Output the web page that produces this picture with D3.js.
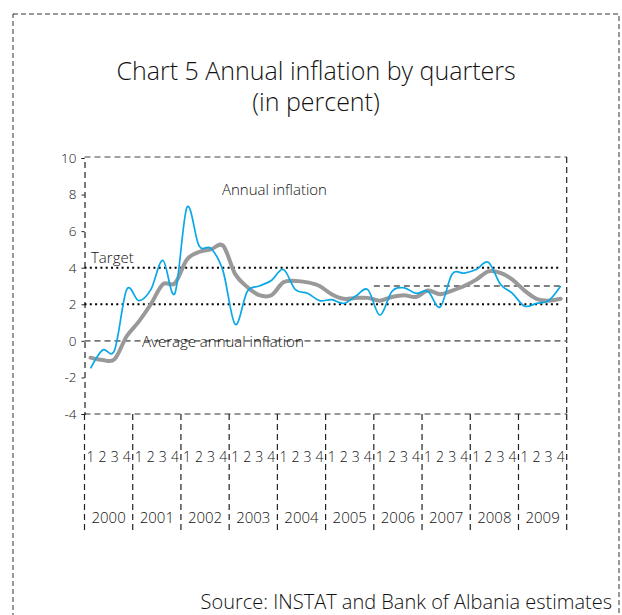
<!DOCTYPE html>
<html>
<head>
<meta charset="utf-8">
<script src="https://cdn.jsdelivr.net/npm/d3@7"></script>
<style>
  html, body { margin: 0; padding: 0; background: #fff; }
  svg { display: block; }
  text { font-family: "Open Sans", Lato, "DejaVu Sans", sans-serif; font-weight: 300; fill: #111; }
</style>
</head>
<body>
<svg id="chart" width="622" height="615"></svg>
<script>
// ---------------- data ----------------
const years = ["2000","2001","2002","2003","2004","2005","2006","2007","2008","2009"];
const quarters = ["1","2","3","4"];
// Annual inflation (percent), end of quarter
const annualInflation = [
  -1.5, -0.5, -0.5, 2.8,
   2.2,  2.8,  4.4, 2.6,
   7.3,  5.2,  5.05, 3.8,
   0.9,  2.7,  3.0, 3.3,
   3.9,  2.8,  2.6, 2.2,
   2.25, 2.05, 2.45, 2.8,
   1.4,  2.7,  2.9, 2.6,
   2.7,  1.85, 3.65, 3.7,
   3.9,  4.3,  3.1, 2.6,
   1.9,  2.05, 2.2, 3.0
];
// Average annual inflation (percent)
const averageInflation = [
  -0.92, -1.05, -1.0, 0.25,
   1.05,  2.0,  3.1, 3.15,
   4.45,  4.86, 5.0, 5.2,
   3.65,  2.95, 2.5, 2.5,
   3.2,   3.28, 3.2, 3.0,
   2.55,  2.3,  2.35, 2.35,
   2.2,   2.4,  2.5, 2.4,
   2.75,  2.55, 2.75, 3.0,
   3.35,  3.8,  3.72, 3.35,
   2.75,  2.3,  2.2, 2.3
];
const yTicks = [-4, -2, 0, 2, 4, 6, 8, 10];
const targetBand = [2, 4];      // dotted lines
const targetPoint = 3;          // dashed line from 2006
const targetPointStart = "2006-1";
const averageLevel = 0;

const titleLines = ["Chart 5 Annual inflation by quarters", "(in percent)"];
const sourceText = "Source: INSTAT and Bank of Albania estimates";

// ---------------- layout ----------------
const svg = d3.select("#chart");
const L = 84.5, R = 566.7, T = 158, B = 414;

const keys = [];
years.forEach(y => quarters.forEach(q => keys.push(y + "-" + q)));

const xq = d3.scaleBand().domain(keys).range([L, R]);
const xy = d3.scaleBand().domain(years).range([L, R]);
const y = d3.scaleLinear().domain([-4, 10]).range([B, T]);

// outer frame
svg.append("rect")
  .attr("x", 13).attr("y", 14).attr("width", 606).attr("height", 640)
  .attr("fill", "none").attr("stroke", "#333").attr("stroke-width", 1)
  .attr("stroke-dasharray", "5,3");

// title
svg.append("g").selectAll("text").data(titleLines).join("text")
  .attr("x", 316).attr("y", (d, i) => 80 + i * 31)
  .attr("text-anchor", "middle")
  .attr("font-size", 25)
  .text(d => d);

// plot frame: top & right
svg.append("line").attr("x1", L).attr("x2", R).attr("y1", T - 1).attr("y2", T - 1)
  .attr("stroke", "#444").attr("stroke-width", 1.2).attr("stroke-dasharray", "6,4");
svg.append("line").attr("x1", R).attr("x2", R).attr("y1", T - 1).attr("y2", B)
  .attr("stroke", "#222").attr("stroke-width", 1.2).attr("stroke-dasharray", "6,4");

// bottom line at -4
svg.append("line").attr("x1", L).attr("x2", R).attr("y1", y(-4)).attr("y2", y(-4))
  .attr("stroke", "#777").attr("stroke-width", 1.5).attr("stroke-dasharray", "6,4");

// y axis
const yAxis = svg.append("g").attr("transform", `translate(${L},0)`)
  .call(d3.axisLeft(y).tickValues(yTicks).tickSize(3).tickPadding(5).tickFormat(d => String(d)));
yAxis.select(".domain").attr("stroke", "#222").attr("stroke-width", 1.2).attr("stroke-dasharray", "6,4");
yAxis.selectAll(".tick line").attr("stroke", "#222");
yAxis.selectAll(".tick text").attr("font-size", 13.5)
  .attr("font-family", "'Open Sans', sans-serif").attr("font-weight", 300).attr("fill", "#111");

// average line (0)
svg.append("line").attr("x1", L).attr("x2", R).attr("y1", y(averageLevel)).attr("y2", y(averageLevel))
  .attr("stroke", "#777").attr("stroke-width", 1.6).attr("stroke-dasharray", "6,4");

// target band dotted
svg.append("g").selectAll("line").data(targetBand).join("line")
  .attr("x1", L).attr("x2", 559).attr("y1", d => y(d)).attr("y2", d => y(d))
  .attr("stroke", "#000").attr("stroke-width", 2).attr("stroke-dasharray", "2,3.3");

// point target dashed from 2006
svg.append("line")
  .attr("x1", xq(targetPointStart)).attr("x2", 561)
  .attr("y1", y(targetPoint)).attr("y2", y(targetPoint))
  .attr("stroke", "#555").attr("stroke-width", 1.4).attr("stroke-dasharray", "6,4");

// series
const line = (vals) => d3.line()
  .x((d, i) => xq(keys[i]) + xq.bandwidth() / 2)
  .y(d => y(d))
  .curve(d3.curveCardinal.tension(0))(vals);

svg.append("path").attr("d", line(averageInflation))
  .attr("fill", "none").attr("stroke", "#999").attr("stroke-width", 4)
  .attr("stroke-linejoin", "round").attr("stroke-linecap", "round");

svg.append("path").attr("d", line(annualInflation))
  .attr("fill", "none").attr("stroke", "#0aa8e6").attr("stroke-width", 1.7)
  .attr("stroke-linejoin", "round");

// labels inside plot
svg.append("text").attr("x", 222).attr("y", 195).attr("font-size", 15).text("Annual inflation");
svg.append("text").attr("x", 91).attr("y", 263).attr("font-size", 15).text("Target");
svg.append("text").attr("x", 142).attr("y", 347).attr("font-size", 15).text("Average annual inflation");

// year separators below axis
const bounds = years.map(d => xy(d)).concat([R]);
svg.append("g").selectAll("line").data(bounds).join("line")
  .attr("x1", d => d).attr("x2", d => d).attr("y1", B).attr("y2", 531)
  .attr("stroke", "#222").attr("stroke-width", 1.2).attr("stroke-dasharray", "6,4");

// quarter labels
svg.append("g").selectAll("text").data(keys).join("text")
  .attr("x", d => xq(d) + xq.bandwidth() / 2)
  .attr("y", 462)
  .attr("text-anchor", "middle")
  .attr("font-size", 14)
  .text(d => d.split("-")[1]);

// year labels
svg.append("g").selectAll("text").data(years).join("text")
  .attr("x", d => xy(d) + xy.bandwidth() / 2)
  .attr("y", 523)
  .attr("text-anchor", "middle")
  .attr("font-size", 15)
  .text(d => d);

// source
svg.append("text").attr("x", 612).attr("y", 609).attr("text-anchor", "end")
  .attr("font-size", 20).text(sourceText);
</script>
</body>
</html>
